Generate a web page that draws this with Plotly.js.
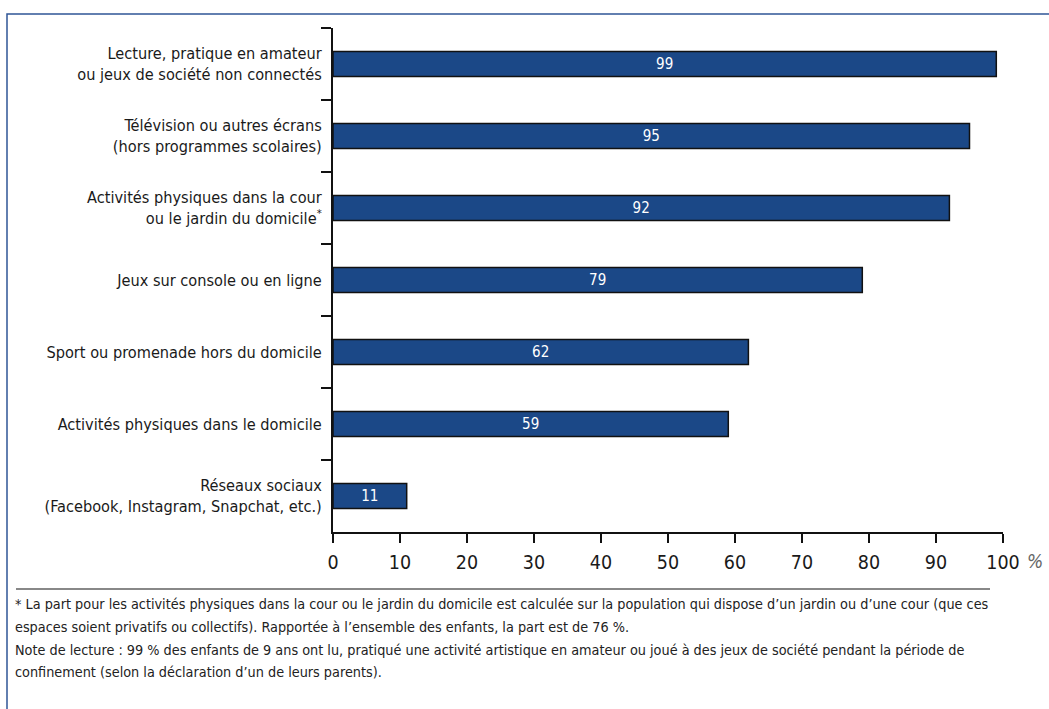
<!DOCTYPE html>
<html><head><meta charset="utf-8">
<script src="https://cdn.plot.ly/plotly-3.0.1.min.js"></script>
<style>html,body{margin:0;padding:0;background:#fff;}#chart{width:1049px;height:709px;}</style>
</head><body><div id="chart"></div>
<script>
var categories = [
  "Lecture, pratique en amateur<br>ou jeux de société non connectés",
  "Télévision ou autres écrans<br>(hors programmes scolaires)",
  "Activités physiques dans la cour<br>ou le jardin du domicile<sup>*</sup>",
  "Jeux sur console ou en ligne",
  "Sport ou promenade hors du domicile",
  "Activités physiques dans le domicile",
  "Réseaux sociaux<br>(Facebook, Instagram, Snapchat, etc.)"
];
var values = [99, 95, 92, 79, 62, 59, 11];
var xTicks = [0, 10, 20, 30, 40, 50, 60, 70, 80, 90, 100];
var unitLabel = "%";
var footnotes = [
  "* La part pour les activités physiques dans la cour ou le jardin du domicile est calculée sur la population qui dispose d’un jardin ou d’une cour (que ces",
  "espaces soient privatifs ou collectifs). Rapportée à l’ensemble des enfants, la part est de 76 %.",
  "Note de lecture : 99 % des enfants de 9 ans ont lu, pratiqué une activité artistique en amateur ou joué à des jeux de société pendant la période de",
  "confinement (selon la déclaration d’un de leurs parents)."
];

var FONT = "'DejaVu Sans Condensed', 'Liberation Sans Narrow', sans-serif";
var W = 1049, H = 709, L = 333, R = 46, T = 28, B = 177;
var pw = W - L - R, ph = H - T - B;
function px(x){ return (x - L) / pw; }
function py(y){ return (H - B - y) / ph; }

var trace = {
  type: "bar", orientation: "h",
  x: values, y: categories,
  width: 0.35,
  marker: {color: "#1b4887", line: {color: "#111111", width: 1.5}},
  text: values.map(String),
  textposition: "inside", insidetextanchor: "middle",
  textfont: {family: FONT, size: 15, color: "#ffffff"},
  hoverinfo: "none"
};

var annotations = [{
  text: unitLabel, xref: "paper", yref: "paper",
  x: px(1025), y: py(561), xanchor: "left", yanchor: "middle",
  showarrow: false, font: {family: FONT, size: 19, color: "#666666", style: "italic"}
}];
var lineY = [604, 627, 650, 672];
footnotes.forEach(function(t, i){
  annotations.push({
    text: t, xref: "paper", yref: "paper", x: px(13), y: py(lineY[i]),
    xanchor: "left", yanchor: "middle", showarrow: false, align: "left",
    font: {family: FONT, size: 14.3, color: "#222222"}
  });
});

var layout = {
  width: W, height: H,
  margin: {l: L, r: R, t: T, b: B, pad: 0},
  paper_bgcolor: "#ffffff", plot_bgcolor: "#ffffff",
  showlegend: false, bargap: 0.65,
  font: {family: FONT, color: "#1a1a1a"},
  xaxis: {
    range: [0, 100], tickvals: xTicks, ticktext: xTicks.map(String),
    showgrid: false, zeroline: false, showline: true, linecolor: "#111", linewidth: 2,
    ticks: "outside", ticklen: 9, tickwidth: 1.5, tickcolor: "#111",
    ticklabelstandoff: 3,
    tickfont: {family: FONT, size: 19.5, color: "#1a1a1a"}, fixedrange: true
  },
  yaxis: {
    type: "category", autorange: "reversed",
    tickson: "boundaries", ticks: "outside", ticklen: 10, tickwidth: 1.5, tickcolor: "#111",
    ticklabelstandoff: 6,
    showline: true, linecolor: "#111", linewidth: 2, showgrid: false, zeroline: false,
    tickfont: {family: FONT, size: 16.2, color: "#1a1a1a"}, fixedrange: true
  },
  annotations: annotations,
  shapes: [
    {type: "rect", xref: "paper", yref: "paper", x0: px(7), x1: px(1070), y0: py(14), y1: py(730),
     line: {color: "#2f5597", width: 1.5}, fillcolor: "rgba(0,0,0,0)", layer: "below"},
    {type: "line", xref: "paper", yref: "paper", x0: px(16), x1: px(990), y0: py(589), y1: py(589),
     line: {color: "#888888", width: 2}}
  ]
};

Plotly.newPlot("chart", [trace], layout, {staticPlot: true, displayModeBar: false});
</script></body></html>
